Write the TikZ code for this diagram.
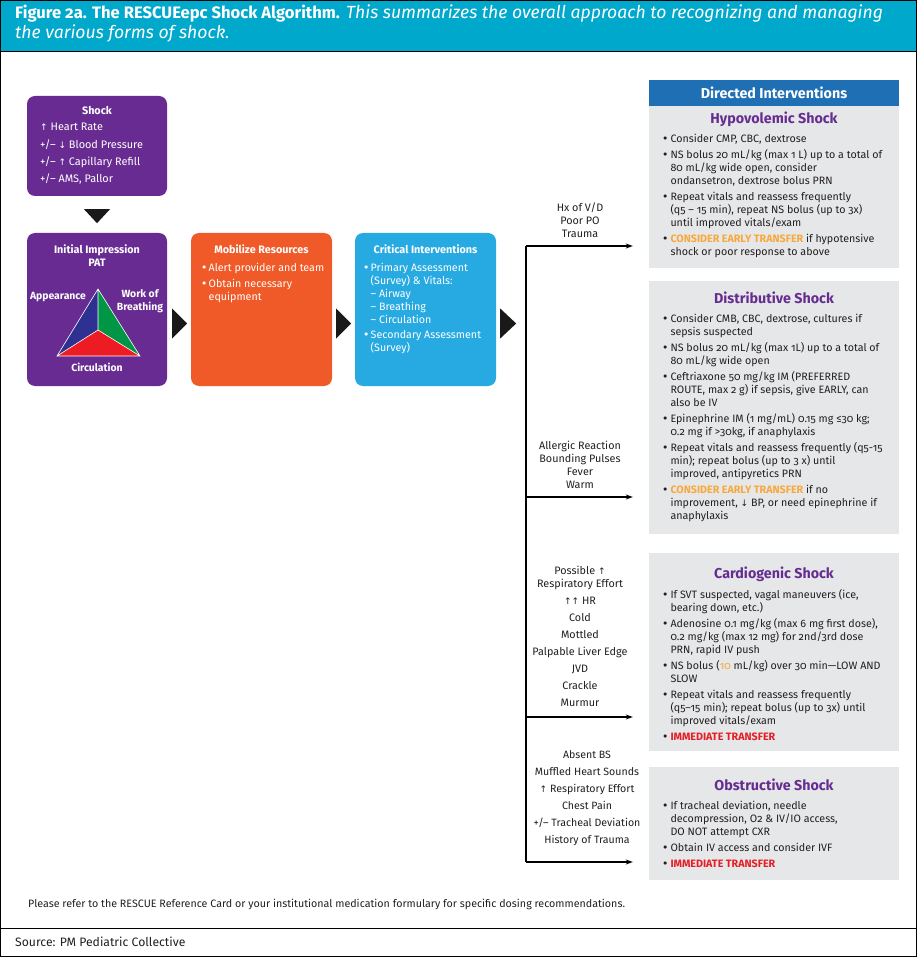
\documentclass[tikz,border=0pt]{standalone}
\usepackage{fontspec}
\setmainfont{Fira Sans}[Numbers=OldStyle]
\newfontfamily\arrowfont{DejaVu Sans}
\usepackage{xcolor}
\usetikzlibrary{positioning,calc,arrows.meta}

\definecolor{headteal}{RGB}{0,168,204}
\definecolor{shockpurple}{RGB}{103,43,145}
\definecolor{mobilorange}{RGB}{240,90,41}
\definecolor{critblue}{RGB}{39,170,225}
\definecolor{dirblue}{RGB}{31,111,181}
\definecolor{panelgray}{RGB}{230,231,232}
\definecolor{titlepurple}{RGB}{102,45,145}
\definecolor{warnorange}{RGB}{248,168,60}
\definecolor{alertred}{RGB}{228,30,38}
\definecolor{bodytext}{RGB}{35,31,32}
\definecolor{patblue}{RGB}{46,49,146}
\definecolor{patgreen}{RGB}{0,150,70}
\definecolor{patred}{RGB}{237,28,36}

\newcommand{\upar}{{\arrowfont\small\char"2191}}
\newcommand{\dnar}{{\arrowfont\small\char"2193}}
\newcommand{\bul}{\makebox[8.5pt][l]{\arrowfont\char"2022}}
\newcommand{\wbul}{\makebox[7.5pt][l]{\arrowfont\char"2022}}
\newcommand{\hi}{\hspace*{8.5pt}}
\newcommand{\wi}{\hspace*{7.5pt}}
\newcommand{\warn}[1]{\textcolor{warnorange}{\bfseries #1}}
\newcommand{\alert}[1]{\textcolor{alertred}{\bfseries #1}}

\begin{document}
\begin{tikzpicture}[
  x=1pt, y=-1pt,
  box/.style={rounded corners=8pt, minimum width=140pt, inner sep=0pt},
  boxhead/.style={font=\fontsize{10.8}{13}\selectfont\bfseries, text=white, align=center, inner sep=0pt},
  boxbody/.style={font=\fontsize{10.7}{13}\selectfont, text=white, align=left, anchor=north west, inner sep=0pt},
  panel/.style={fill=panelgray, minimum width=250pt, inner sep=0pt},
  paneltitle/.style={font=\fontsize{14.3}{16}\selectfont\bfseries, text=titlepurple, inner sep=0pt},
  panelbody/.style={font=\fontsize{10.7}{13}\selectfont, text=bodytext, align=left, anchor=north west, inner sep=0pt},
  cue/.style={font=\fontsize{10.8}{13}\selectfont, text=bodytext, align=center, anchor=south, inner sep=0pt},
  branch/.style={line width=1.1pt, -{Stealth[length=7pt, width=5pt]}},
  chevron/.style={fill=black!90},
]
\useasboundingbox (0,0) rectangle (917,957);

% frame and header
\fill[headteal] (0,0) rectangle (917,52);
\draw[line width=1pt] (0.5,0.5) rectangle (916.5,956.5);
\draw[line width=1pt] (0,52) -- (917,52);
\draw[line width=1pt] (0,928) -- (917,928);
\node[anchor=north west, inner sep=0pt, align=left, text=white,
  font=\fontsize{17.6}{20}\selectfont] (figtitle) at (15,5)
  {{\fontsize{16.6}{20}\selectfont\bfseries Figure 2a. The RESCUEepc Shock Algorithm.} \itshape This summarizes the overall approach to recognizing and managing\\
   \itshape the various forms of shock.};

% left chain
\node[box, fill=shockpurple, minimum height=100pt] (shock) at (97,146) {};
\node[boxhead] (shocktitle) at (97,110) {Shock};
\node[boxbody, font=\fontsize{10.9}{17.3}\selectfont] (shocklist) at (40,123)
  {\upar\ Heart Rate\\ +/-- \dnar\ Blood Pressure\\ +/-- \upar\ Capillary Refill\\ +/-- AMS, Pallor};

\node[box, fill=shockpurple, minimum height=153pt] (init) at (97,309.5) {};
\node[boxhead] (inittitle) at (97,255.5) {Initial Impression\\PAT};
\coordinate (apex) at (98,289);
\coordinate (mid) at (98,330);
\coordinate (bl) at (57,356);
\coordinate (br) at (140,356);
\fill[patblue] (apex) -- (mid) -- (bl) -- cycle;
\fill[patgreen] (apex) -- (br) -- (mid) -- cycle;
\fill[patred] (bl) -- (mid) -- (br) -- cycle;
\draw[white, line width=0.6pt] (apex) -- (bl) -- (br) -- cycle (apex) -- (mid) (bl) -- (mid) -- (br);
\node[boxhead, font=\fontsize{10.4}{13}\selectfont\bfseries] (appear) at (58,297) {Appearance};
\node[boxhead, font=\fontsize{10.4}{13}\selectfont\bfseries] (work) at (140,301) {Work of\\Breathing};
\node[boxhead, font=\fontsize{10.4}{13}\selectfont\bfseries] (circ) at (97,367) {Circulation};

\node[box, fill=mobilorange, minimum width=141pt, minimum height=153pt] (mobil) at (261.5,309.5) {};
\node[boxhead] (mobiltitle) at (261.5,249) {Mobilize Resources};
\node[boxbody] (mobillist) at (201,263)
  {\wbul Alert provider and team\\[3pt] \wbul Obtain necessary\\ \wi equipment};

\node[box, fill=critblue, minimum width=141pt, minimum height=153pt] (crit) at (425.5,309.5) {};
\node[boxhead] (crittitle) at (425.5,249) {Critical Interventions};
\node[boxbody] (critlist) at (363,263)
  {\wbul Primary Assessment\\ \wi (Survey) \& Vitals:\\ \wi -- Airway\\ \wi -- Breathing\\
   \wi -- Circulation\\[2pt] \wbul Secondary Assessment\\ \wi (Survey)};

% chevrons between boxes
\fill[chevron] ($(shock.south)+(-13,13)$) -- ($(shock.south)+(13,13)$) -- ($(shock.south)+(0,27)$) -- cycle;
\fill[chevron] ($(init.east)+(5,-1)$) -- ($(init.east)+(5,29)$) -- ($(init.east)+(20,14)$) -- cycle;
\fill[chevron] ($(mobil.east)+(4,-1)$) -- ($(mobil.east)+(4,29)$) -- ($(mobil.east)+(19,14)$) -- cycle;
\fill[chevron] ($(crit.east)+(4,-1)$) -- ($(crit.east)+(4,29)$) -- ($(crit.east)+(20,14)$) -- cycle;

% directed interventions column
\node[panel, fill=dirblue, minimum height=26pt, text=white, font=\fontsize{14.3}{16}\selectfont\bfseries] (directed) at (774,93) {Directed Interventions};
\node[panel, minimum height=162pt] (hypo) at (774,187) {};
\node[panel, minimum height=253pt] (distr) at (774,407.5) {};
\node[panel, minimum height=198pt] (cardio) at (774,652) {};
\node[panel, minimum height=113pt] (obstr) at (774,823.5) {};

\node[paneltitle] (hypotitle) at ($(hypo.north)+(0,13)$) {Hypovolemic Shock};
\node[panelbody] (hypobody) at ($(hypo.north west)+(13,28)$)
  {\bul Consider CMP, CBC, dextrose\\[3pt]
   \bul NS bolus 20 mL/kg (max 1 L) up to a total of\\
   \hi 80 mL/kg wide open, consider\\
   \hi ondansetron, dextrose bolus PRN\\[3pt]
   \bul Repeat vitals and reassess frequently\\
   \hi (q5 -- 15 min), repeat NS bolus (up to 3x)\\
   \hi until improved vitals/exam\\[3pt]
   \bul \warn{CONSIDER EARLY TRANSFER} if hypotensive\\
   \hi shock or poor response to above};

\node[paneltitle] (distrtitle) at ($(distr.north)+(0,17)$) {Distributive Shock};
\node[panelbody] (distrbody) at ($(distr.north west)+(13,33)$)
  {\bul Consider CMB, CBC, dextrose, cultures if\\
   \hi sepsis suspected\\[3pt]
   \bul NS bolus 20 mL/kg (max 1L) up to a total of\\
   \hi 80 mL/kg wide open\\[3pt]
   \bul Ceftriaxone 50 mg/kg IM (PREFERRED\\
   \hi ROUTE, max 2 g) if sepsis, give EARLY, can\\
   \hi also be IV\\[3pt]
   \bul Epinephrine IM (1 mg/mL) 0.15 mg ≤30 kg;\\
   \hi 0.2 mg if >30kg, if anaphylaxis\\[3pt]
   \bul Repeat vitals and reassess frequently (q5-15\\
   \hi min); repeat bolus (up to 3 x) until\\
   \hi improved, antipyretics PRN\\[3pt]
   \bul \warn{CONSIDER EARLY TRANSFER} if no\\
   \hi improvement, \dnar\ BP, or need epinephrine if\\
   \hi anaphylaxis};

\node[paneltitle] (cardiotitle) at ($(cardio.north)+(0,21)$) {Cardiogenic Shock};
\node[panelbody] (cardiobody) at ($(cardio.north west)+(13,36)$)
  {\bul If SVT suspected, vagal maneuvers (ice,\\
   \hi bearing down, etc.)\\[3pt]
   \bul Adenosine 0.1 mg/kg (max 6 mg first dose),\\
   \hi 0.2 mg/kg (max 12 mg) for 2nd/3rd dose\\
   \hi PRN, rapid IV push\\[3pt]
   \bul NS bolus (\textcolor{warnorange}{10} mL/kg) over 30 min---LOW AND\\
   \hi SLOW\\[3pt]
   \bul Repeat vitals and reassess frequently\\
   \hi (q5--15 min); repeat bolus (up to 3x) until\\
   \hi improved vitals/exam\\[3pt]
   \bul \alert{IMMEDIATE TRANSFER}};

\node[paneltitle] (obstrtitle) at ($(obstr.north)+(0,18)$) {Obstructive Shock};
\node[panelbody] (obstrbody) at ($(obstr.north west)+(13,34)$)
  {\bul If tracheal deviation, needle\\
   \hi decompression, O2 \& IV/IO access,\\
   \hi DO NOT attempt CXR\\[3pt]
   \bul Obtain IV access and consider IVF\\[3pt]
   \bul \alert{IMMEDIATE TRANSFER}};

% branching connectors
\coordinate (f1) at (526,246);
\coordinate (f2) at (526,497);
\coordinate (f3) at (526,717);
\coordinate (f4) at (526,862);
\draw[line width=1.1pt] (f1) -- (f4);
\draw[branch, shorten >=16pt] (f1) -- (f1 -| hypo.west);
\draw[branch, shorten >=16pt] (f2) -- (f2 -| distr.west);
\draw[branch, shorten >=16pt] (f3) -- (f3 -| cardio.west);
\draw[branch, shorten >=16pt] (f4) -- (f4 -| obstr.west);

\node[cue] (hypocue) at ($(f1)+(54,-8)$) {Hx of V/D\\Poor PO\\Trauma};
\node[cue] (distrcue) at ($(f2)+(54,-8)$) {Allergic Reaction\\Bounding Pulses\\Fever\\Warm};
\node[cue] (cardiocue) at ($(f3)+(54,-10)$)
  {Possible \upar\\Respiratory Effort\\[4pt] \upar\upar\ HR\\[4pt] Cold\\[4pt] Mottled\\[4pt] Palpable Liver Edge\\[4pt] JVD\\[4pt] Crackle\\[4pt] Murmur};
\node[cue, font=\fontsize{10.6}{17}\selectfont] (obstrcue) at ($(f4)+(61,-16)$)
  {Absent BS\\Muffled Heart Sounds\\\upar\ Respiratory Effort\\Chest Pain\\+/-- Tracheal Deviation\\History of Trauma};

% footer
\node[anchor=west, inner sep=0pt, text=bodytext, font=\fontsize{10.7}{12}\selectfont] (refnote) at (28,904)
  {Please refer to the RESCUE Reference Card or your institutional medication formulary for specific dosing recommendations.};
\node[anchor=west, inner sep=0pt, text=bodytext, font=\fontsize{12.2}{14}\selectfont] (source) at (15,942) {Source: PM Pediatric Collective};
\end{tikzpicture}
\end{document}
